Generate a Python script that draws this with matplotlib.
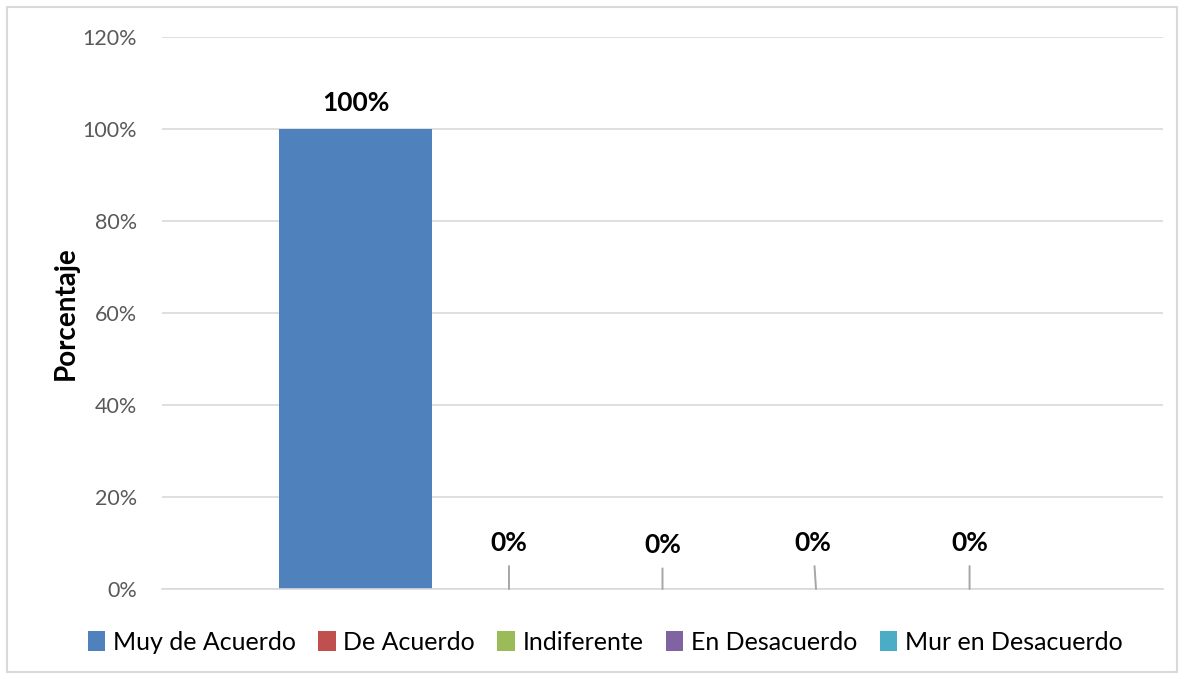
import matplotlib.pyplot as plt
from matplotlib.patches import Rectangle
from matplotlib.ticker import FuncFormatter

# Datos
series = ['Muy de Acuerdo', 'De Acuerdo', 'Indiferente', 'En Desacuerdo', 'Mur en Desacuerdo']
values = [100, 0, 0, 0, 0]
colors = ['#4F81BD', '#C0504D', '#9BBB59', '#8064A2', '#4BACC6']

plt.rcParams['font.family'] = ['Lato', 'DejaVu Sans']

fig = plt.figure(figsize=(11.85, 6.79), dpi=100)
ax = fig.add_axes([162 / 1185, 1 - 589 / 679, (1163 - 162) / 1185, (589 - 37) / 679])

# marco exterior del grafico
fig.patches.append(Rectangle((7 / 1185, 7 / 679), 1170 / 1185, 665 / 679,
                             transform=fig.transFigure, fill=False,
                             edgecolor='#d9d9d9', linewidth=1.5))

x = list(range(len(series)))
bars = ax.bar(x, values, width=1.0, color=colors, label=series, zorder=2)

ax.set_xlim(-0.5 - 0.76, len(series) - 0.5 + 0.76)
ax.set_ylim(0, 120)
ax.set_yticks(range(0, 121, 20))
ax.yaxis.set_major_formatter(FuncFormatter(lambda v, p: f'{v:.0f}%'))
ax.set_xticks([])
ax.grid(axis='y', color='#d9d9d9', linewidth=1.2, zorder=0)
for s in ['top', 'right', 'left']:
    ax.spines[s].set_visible(False)
ax.spines['bottom'].set_color('#d9d9d9')
ax.spines['bottom'].set_linewidth(1.2)
ax.tick_params(axis='y', length=0, pad=18, labelsize=15.5, labelcolor='#595959')

ax.set_ylabel('Porcentaje', fontsize=20, fontweight='bold', labelpad=3)

# etiquetas de datos (las de 0% con linea guia)
label_dx = [0, 0, -0.02, 0]
label_y = [10, 9.5, 10, 10]
for i, v in zip(x, values):
    if v > 0:
        ax.text(i, v + 3, f'{v}%', ha='center', va='bottom', fontsize=19, fontweight='bold')
    else:
        ax.annotate(f'{v}%', xy=(i, 0), xytext=(i + label_dx[i - 1], label_y[i - 1]),
                    ha='center', va='center', fontsize=19, fontweight='bold',
                    arrowprops=dict(arrowstyle='-', color='#a6a6a6', lw=1.4,
                                    shrinkA=6, shrinkB=0))

ax.legend(loc='center', bbox_to_anchor=(605 / 1185, (679 - 642) / 679), bbox_transform=fig.transFigure,
          ncol=5, frameon=False, fontsize=18, handlelength=0.7, handleheight=0.85,
          handletextpad=0.3, columnspacing=0.9)

fig.savefig('out.png', dpi=100)
